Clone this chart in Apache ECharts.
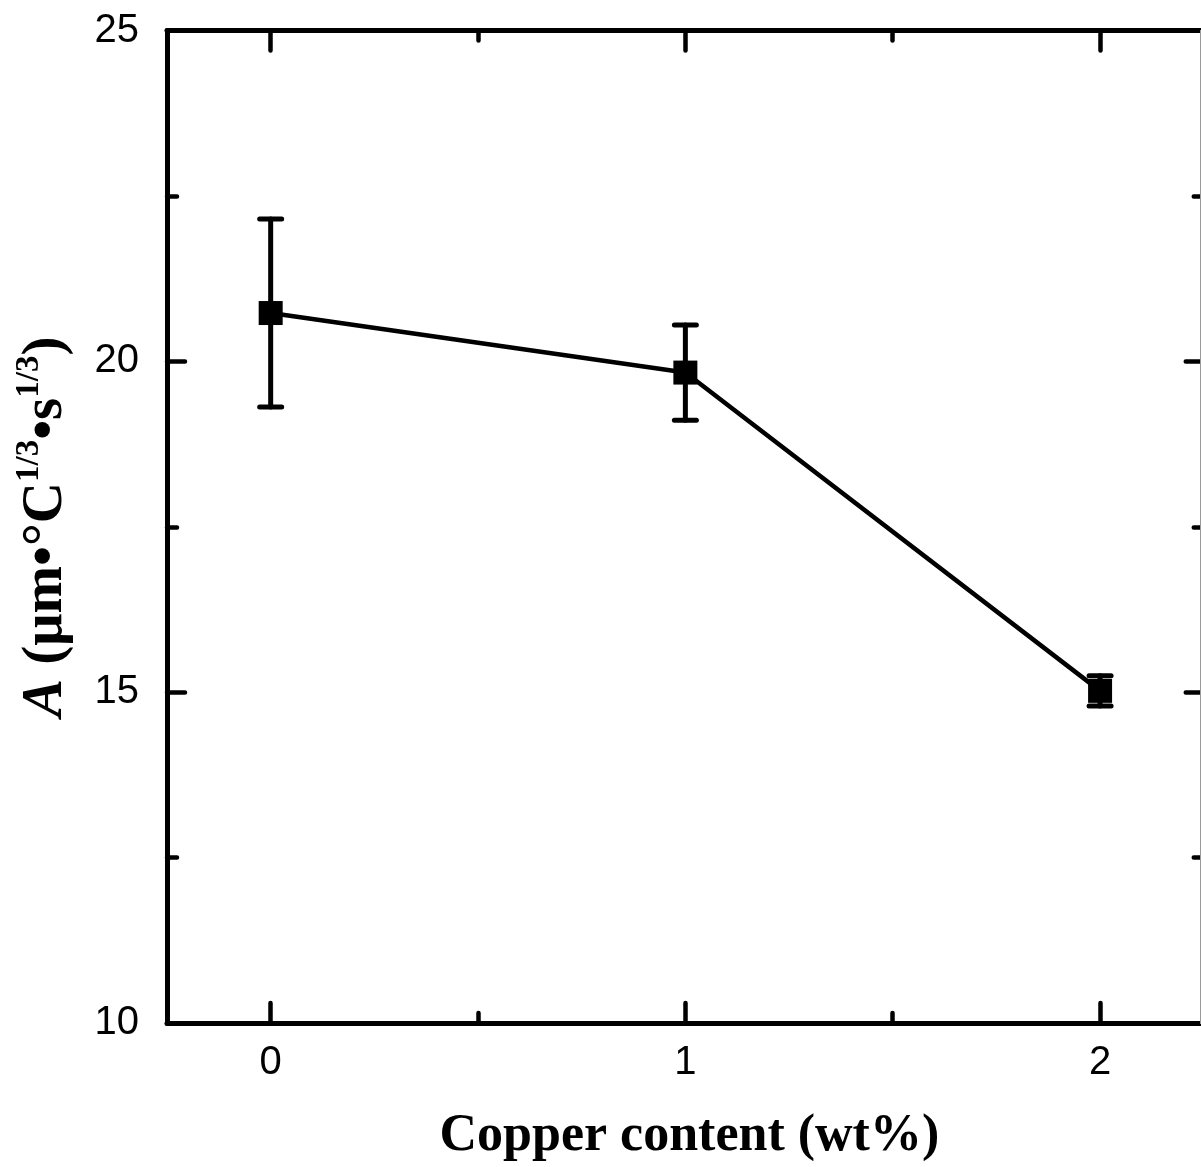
<!DOCTYPE html>
<html><head><meta charset="utf-8">
<script src="https://cdn.jsdelivr.net/npm/echarts@6/dist/echarts.min.js"></script>
<style>html,body{margin:0;padding:0;background:#fff}#c{width:1201px;height:1167px}</style>
</head><body><div id="c"></div>
<script>
// Data
const copperContent = [0, 1, 2];
const aValues = [20.73, 19.83, 15.02];
const aErrors = [1.42, 0.72, 0.23];
const xMajorTicks = [0, 1, 2];
const xMinorTicks = [0.5, 1.5];
const xTickLabels = [0, 1, 2];
const yTickLabels = [10, 15, 20, 25];

const chart = echarts.init(document.getElementById('c'), null, {renderer: 'canvas'});
const black = '#000';
const sans = 'Liberation Sans';
const serif = 'Liberation Serif';

function xAxisCfg(pos, ticks, len, withLine, withLabels, extra) {
  return Object.assign({
    type: 'value', position: pos, min: -0.25, max: 2.25,
    splitLine: {show: false},
    axisLine: {show: withLine, onZero: false, lineStyle: {color: black, width: 5}},
    axisTick: {show: true, inside: true, length: len, customValues: ticks, lineStyle: {color: black, width: 4.5, cap: 'round'}},
    axisLabel: withLabels ? {show: true, customValues: xTickLabels, color: black, fontFamily: sans, fontSize: 40, margin: 20} : {show: false}
  }, extra || {});
}
function yAxisCfg(pos, withLabels, extra) {
  return Object.assign({
    type: 'value', position: pos, min: 10, max: 25, interval: 5,
    splitLine: {show: false},
    axisLine: {show: true, onZero: false, lineStyle: {color: black, width: 5}},
    axisTick: {show: true, inside: true, length: 18, lineStyle: {color: black, width: 4.5, cap: 'round'}},
    minorTick: {show: true, splitNumber: 2, length: 10, lineStyle: {color: black, width: 4.5, cap: 'round'}},
    axisLabel: withLabels ? {show: true, color: black, fontFamily: sans, fontSize: 40, margin: 28,
      formatter: v => yTickLabels.includes(v) ? String(v) : ''} : {show: false}
  }, extra || {});
}

const errorData = copperContent.map((x, i) => [x, aValues[i], aErrors[i]]);

const option = {
  animation: false,
  backgroundColor: '#fff',
  grid: {left: 167, top: 30.5, width: 1036.75, height: 992.5, containLabel: false, outerBoundsMode: 'none'},
  xAxis: [
    xAxisCfg('bottom', xMajorTicks, 20, true, true, {
      name: 'Copper content (wt%)', nameLocation: 'middle', nameGap: 88,
      nameTextStyle: {fontFamily: serif, fontWeight: 'bold', fontSize: 52, color: black, padding: [0, 0, 0, 8]}
    }),
    xAxisCfg('bottom', xMinorTicks, 10, false, false),
    xAxisCfg('top', xMajorTicks, 20, true, false),
    xAxisCfg('top', xMinorTicks, 10, false, false)
  ],
  yAxis: [
    yAxisCfg('left', true, {
      name: '{it|A} {n|(μm•°C}{sup|1/3}{n|•s}{sup|1/3}{n|)}',
      nameLocation: 'middle', nameRotate: 90, nameGap: 92,
      nameTextStyle: {
        fontFamily: serif, fontWeight: 'bold', fontSize: 57, color: black,
        rich: {
          it: {fontFamily: serif, fontWeight: 'bold', fontStyle: 'italic', fontSize: 57, color: black, lineHeight: 62, verticalAlign: 'bottom'},
          n: {fontFamily: serif, fontWeight: 'bold', fontSize: 57, color: black, lineHeight: 62, verticalAlign: 'bottom'},
          sup: {fontFamily: serif, fontWeight: 'bold', fontSize: 33, color: black, lineHeight: 62, verticalAlign: 'top', padding: [0, 0, 0, 0]}
        }
      }
    }),
    yAxisCfg('right', false)
  ],
  series: [
    {
      type: 'custom', xAxisIndex: 0, yAxisIndex: 0, z: 2,
      data: errorData,
      renderItem: function (params, api) {
        const x = api.value(0), y = api.value(1), e = api.value(2);
        const top = api.coord([x, y + e]);
        const bot = api.coord([x, y - e]);
        const hw = 11;
        const style = {stroke: black, lineWidth: 5, lineCap: 'round'};
        return {type: 'group', children: [
          {type: 'line', shape: {x1: top[0], y1: top[1], x2: bot[0], y2: bot[1]}, style: style},
          {type: 'line', shape: {x1: top[0] - hw, y1: top[1], x2: top[0] + hw, y2: top[1]}, style: style},
          {type: 'line', shape: {x1: bot[0] - hw, y1: bot[1], x2: bot[0] + hw, y2: bot[1]}, style: style}
        ]};
      }
    },
    {
      type: 'line', xAxisIndex: 0, yAxisIndex: 0, z: 3,
      data: copperContent.map((x, i) => [x, aValues[i]]),
      symbol: 'rect', symbolSize: 24,
      lineStyle: {color: black, width: 4.5},
      itemStyle: {color: black}
    }
  ],
  graphic: [
    {type: 'line', z: 10, shape: {x1: 1200.5, y1: 30, x2: 1200.5, y2: 1024}, style: {stroke: '#9a9a9a', lineWidth: 1}}
  ]
};
chart.setOption(option);
</script></body></html>
